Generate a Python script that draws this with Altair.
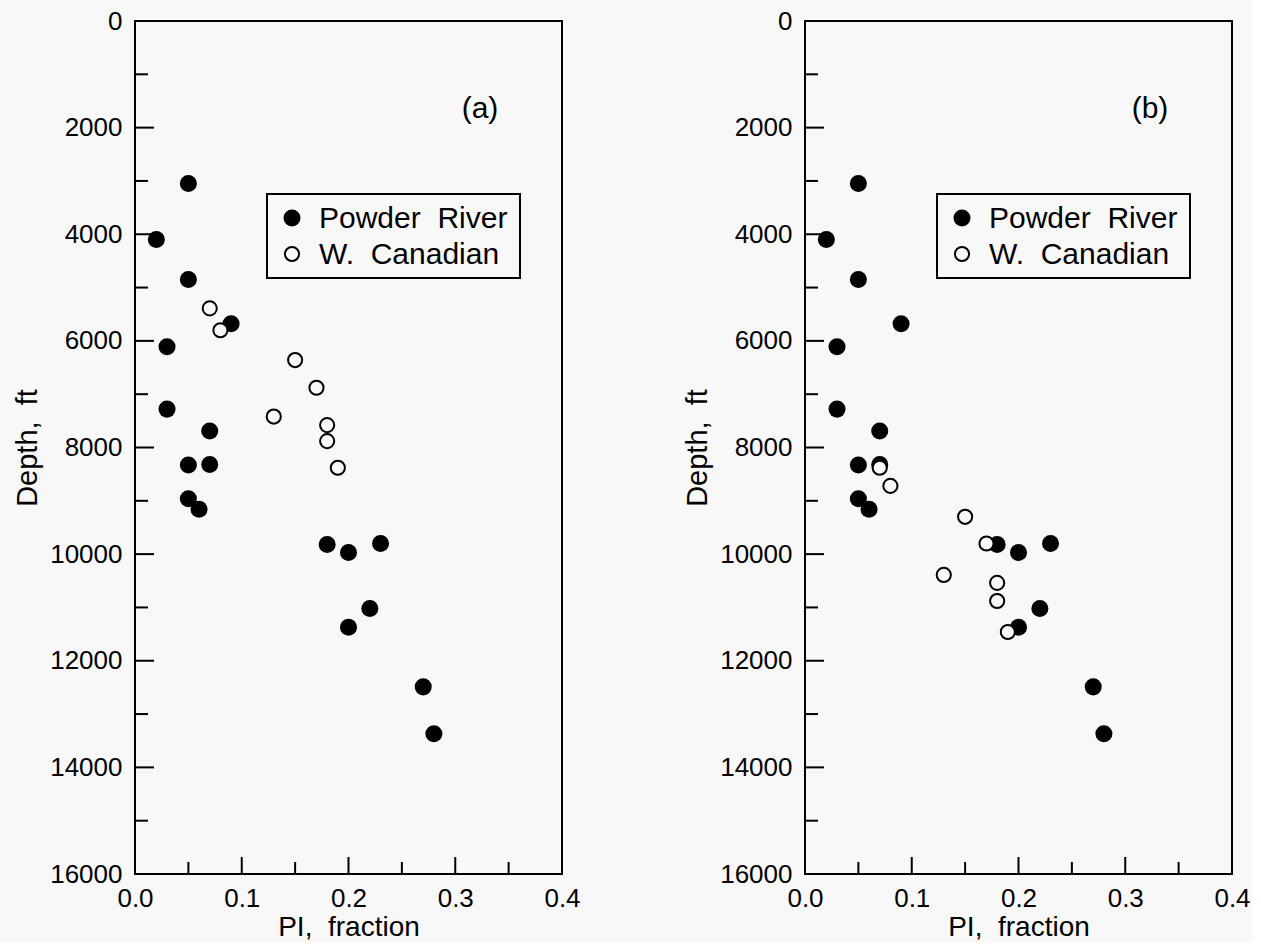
import altair as alt
import pandas as pd

# Powder River basin wells (same in both panels)
pi_powder = [0.05, 0.02, 0.05, 0.09, 0.03, 0.03, 0.07, 0.05, 0.07,
             0.05, 0.06, 0.18, 0.20, 0.23, 0.22, 0.20, 0.27, 0.28]
depth_powder = [3050, 4100, 4850, 5680, 6110, 7280, 7690, 8330, 8320,
                8960, 9160, 9820, 9970, 9800, 11020, 11370, 12490, 13370]

# Western Canadian basin wells, panel (a)
pi_canadian_a = [0.07, 0.08, 0.15, 0.17, 0.13, 0.18, 0.18, 0.19]
depth_canadian_a = [5390, 5800, 6360, 6880, 7420, 7580, 7880, 8380]

# Western Canadian basin wells, panel (b)
pi_canadian_b = [0.07, 0.08, 0.15, 0.17, 0.13, 0.18, 0.18, 0.19]
depth_canadian_b = [8380, 8720, 9300, 9800, 10390, 10540, 10880, 11460]

basins = ["Powder\u00a0 River", "W.\u00a0 Canadian"]
panel_labels = ["(a)", "(b)"]

y_major = [0, 2000, 4000, 6000, 8000, 10000, 12000, 14000, 16000]
y_minor = [1000, 3000, 5000, 7000, 9000, 11000, 13000, 15000]
x_major = [0.0, 0.1, 0.2, 0.3, 0.4]
x_minor = [0.05, 0.15, 0.25, 0.35]

BG = "#f8f8f8"
FONT = "Liberation Sans"
W, H = 427, 853

x_scale = alt.Scale(domain=[0, 0.4], nice=False, zero=False)
y_scale = alt.Scale(domain=[0, 16000], reverse=True, nice=False, zero=False)

x_axis = alt.Axis(values=x_major, format=".1f", title="PI,\u00a0 fraction",
                  ticks=False, tickSize=0, domain=False, grid=False,
                  labelFlush=False, labelOverlap=False, labelPadding=11,
                  labelFontSize=26, titleFontSize=28, titleFontWeight="normal",
                  titlePadding=2, labelColor="black", titleColor="black",
                  labelFont=FONT, titleFont=FONT)
y_axis = alt.Axis(values=y_major, format="d", title="Depth,\u00a0 ft",
                  ticks=False, tickSize=0, domain=False, grid=False,
                  labelFlush=False, labelOverlap=False, labelPadding=13,
                  labelFontSize=26, titleFontSize=29, titleFontWeight="normal",
                  titlePadding=7, labelColor="black", titleColor="black",
                  labelFont=FONT, titleFont=FONT)

X = alt.X("pi:Q", scale=x_scale, axis=x_axis)
Y = alt.Y("depth:Q", scale=y_scale, axis=y_axis)


def panel(pi_can, depth_can, label):
    pts = pd.concat([
        pd.DataFrame({"pi": pi_powder, "depth": depth_powder, "basin": basins[0]}),
        pd.DataFrame({"pi": pi_can, "depth": depth_can, "basin": basins[1]}),
    ], ignore_index=True)

    base = alt.Chart(pts)
    filled = base.transform_filter(alt.datum.basin == basins[0]).mark_circle(
        size=290, color="black", opacity=1
    ).encode(x=X, y=Y)
    hollow = base.transform_filter(alt.datum.basin == basins[1]).mark_circle(
        size=200, fill=BG, stroke="black", strokeWidth=2, opacity=1
    ).encode(x=X, y=Y)

    # inward tick marks
    ymaj = alt.Chart(pd.DataFrame({"depth": y_major})).mark_rule(
        color="black", strokeWidth=2
    ).encode(y=Y, x=alt.value(0), x2=alt.value(19))
    ymin = alt.Chart(pd.DataFrame({"depth": y_minor})).mark_rule(
        color="black", strokeWidth=2
    ).encode(y=Y, x=alt.value(0), x2=alt.value(13))
    xmaj = alt.Chart(pd.DataFrame({"pi": x_major})).mark_rule(
        color="black", strokeWidth=2
    ).encode(x=X, y=alt.value(H), y2=alt.value(H - 17))
    xmin = alt.Chart(pd.DataFrame({"pi": x_minor})).mark_rule(
        color="black", strokeWidth=2
    ).encode(x=X, y=alt.value(H), y2=alt.value(H - 12))

    # legend box with one row per basin
    box = alt.Chart(pd.DataFrame({"k": [0]})).mark_rect(
        fill=BG, stroke="black", strokeWidth=2
    ).encode(x=alt.value(132), x2=alt.value(385),
             y=alt.value(173), y2=alt.value(257))
    legend_layers = [box]
    for i, name in enumerate(basins):
        row_y = 197 + 36 * i
        d = alt.Chart(pd.DataFrame({"basin": [name]}))
        if i == 0:
            sym = d.mark_circle(size=290, color="black", opacity=1)
        else:
            sym = d.mark_circle(size=200, fill=BG, stroke="black",
                                strokeWidth=2, opacity=1)
        legend_layers.append(sym.encode(x=alt.value(157), y=alt.value(row_y)))
        legend_layers.append(
            d.mark_text(align="left", baseline="middle", fontSize=30,
                        font=FONT, color="black")
            .encode(x=alt.value(184), y=alt.value(row_y + 1), text="basin:N")
        )

    tag = alt.Chart(pd.DataFrame({"label": [label]})).mark_text(
        align="center", baseline="middle", fontSize=30, font=FONT, color="black"
    ).encode(x=alt.value(345), y=alt.value(88), text="label:N")

    return alt.layer(filled, ymaj, ymin, xmaj, xmin, *legend_layers, tag,
                     hollow).properties(width=W, height=H)


panel_a = panel(pi_canadian_a, depth_canadian_a, panel_labels[0])
panel_b = panel(pi_canadian_b, depth_canadian_b, panel_labels[1])

chart = alt.hconcat(panel_a, panel_b, spacing=100).properties(
    background=BG,
    padding={"left": 12, "top": 7, "right": 0, "bottom": 0},
).configure(
    font=FONT,
    view=alt.ViewConfig(stroke="black", strokeWidth=2),
)

chart.save("out.html", embed_options={"renderer": "svg", "actions": False})
